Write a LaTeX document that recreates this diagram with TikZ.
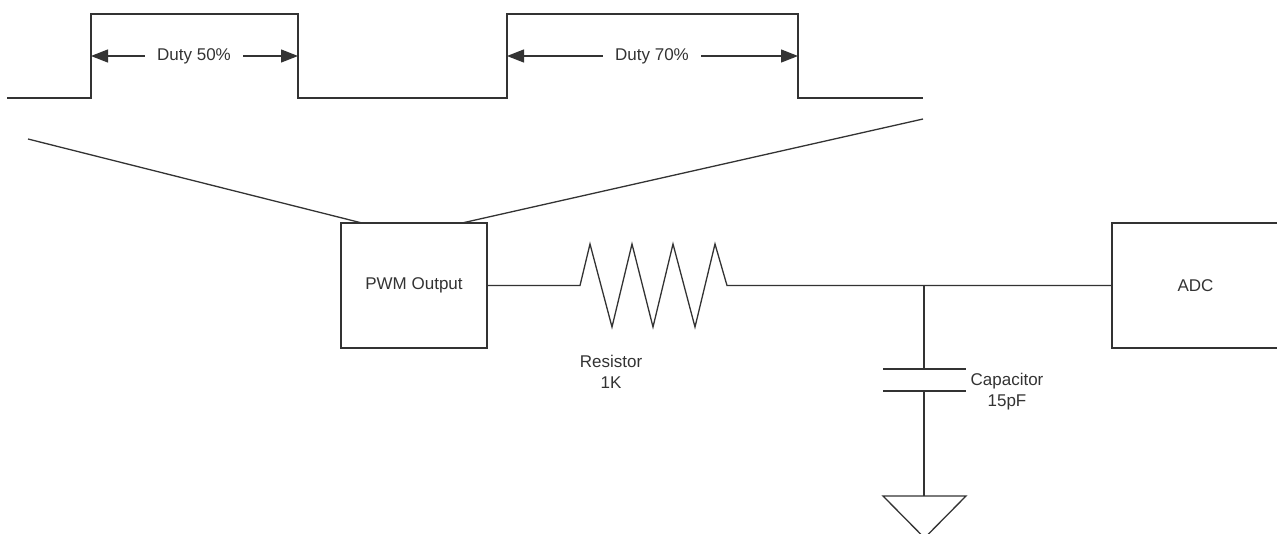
\documentclass[tikz,border=0pt]{standalone}
\usepackage{fontspec}
\setmainfont{Liberation Sans}
\usetikzlibrary{arrows.meta}
\definecolor{ink}{HTML}{333333}
\begin{document}
\begin{tikzpicture}[x=1pt,y=-1pt,
  wire/.style={draw=ink,line width=1.3pt},
  blockbox/.style={draw=ink,line width=1.3pt,rectangle,inner sep=0pt,font=\fontsize{17}{21}\selectfont,text=ink},
  lbl/.style={font=\fontsize{17}{21}\selectfont,text=ink,align=center,inner sep=0pt},
  dutylbl/.style={font=\fontsize{17}{21}\selectfont,text=ink,inner xsep=12pt,inner ysep=0pt},
  dutyarrow/.style={draw=ink,line width=1.3pt,-{Triangle[length=17pt,width=13pt]}}]
\useasboundingbox (0,0) rectangle (1277,533);
% waveform
\coordinate (w0) at (7,98);
\coordinate (r1b) at (91,98);
\coordinate (r1t) at (91,14);
\coordinate (f1t) at (298,14);
\coordinate (f1b) at (298,98);
\coordinate (r2b) at (507,98);
\coordinate (r2t) at (507,14);
\coordinate (f2t) at (798,14);
\coordinate (f2b) at (798,98);
\coordinate (w1) at (923,98);
\draw[wire] (w0) -- (r1b) -- (r1t) -- (f1t) -- (f1b) -- (r2b) -- (r2t) -- (f2t) -- (f2b) -- (w1);
% duty labels
\coordinate (a1l) at (91,56);
\coordinate (a1r) at (298,56);
\coordinate (a2l) at (507,56);
\coordinate (a2r) at (798,56);
\node[dutylbl] (d50) at (194,56) {Duty 50\%};
\node[dutylbl] (d70) at (652,56) {Duty 70\%};
\draw[dutyarrow] (d50.west) -- (a1l);
\draw[dutyarrow] (d50.east) -- (a1r);
\draw[dutyarrow] (d70.west) -- (a2l);
\draw[dutyarrow] (d70.east) -- (a2r);
% blocks
\node[blockbox,minimum width=146pt,minimum height=125pt] (pwm) at (414,285.5) {PWM Output};
\node[blockbox,minimum width=167pt,minimum height=125pt] (adc) at (1195.5,285.5) {ADC};
% zoom lines
\coordinate (zl) at (28,139);
\coordinate (zr) at (923,119);
\coordinate (pl) at (362,223);
\coordinate (pr) at (462,223);
\draw[wire] (zl) -- (pl);
\draw[wire] (zr) -- (pr);
% resistor
\coordinate (rs) at (580,285.5);
\coordinate (re) at (727,285.5);
\coordinate (j) at (924,285.5);
\draw[wire,line join=miter] (pwm.east) -- (rs) -- (590,244) -- (612,327) -- (632,244) -- (653,327) -- (673,244) -- (695,327) -- (715,244) -- (re) -- (j) -- (adc.west);
\node[lbl] (rlbl) at (611,372) {Resistor\\1K};
% capacitor
\coordinate (c1) at (924,369);
\coordinate (c2) at (924,391);
\coordinate (g) at (924,496);
\draw[wire] (j) -- (c1);
\draw[wire] (883,369) -- (966,369);
\draw[wire] (883,391) -- (966,391);
\draw[wire] (c2) -- (g);
\node[lbl] (clbl) at (1007,392) {Capacitor\\15pF};
% ground
\draw[wire,line join=miter] (883,496) -- (966,496) -- (924.5,538) -- cycle;
\end{tikzpicture}
\end{document}
